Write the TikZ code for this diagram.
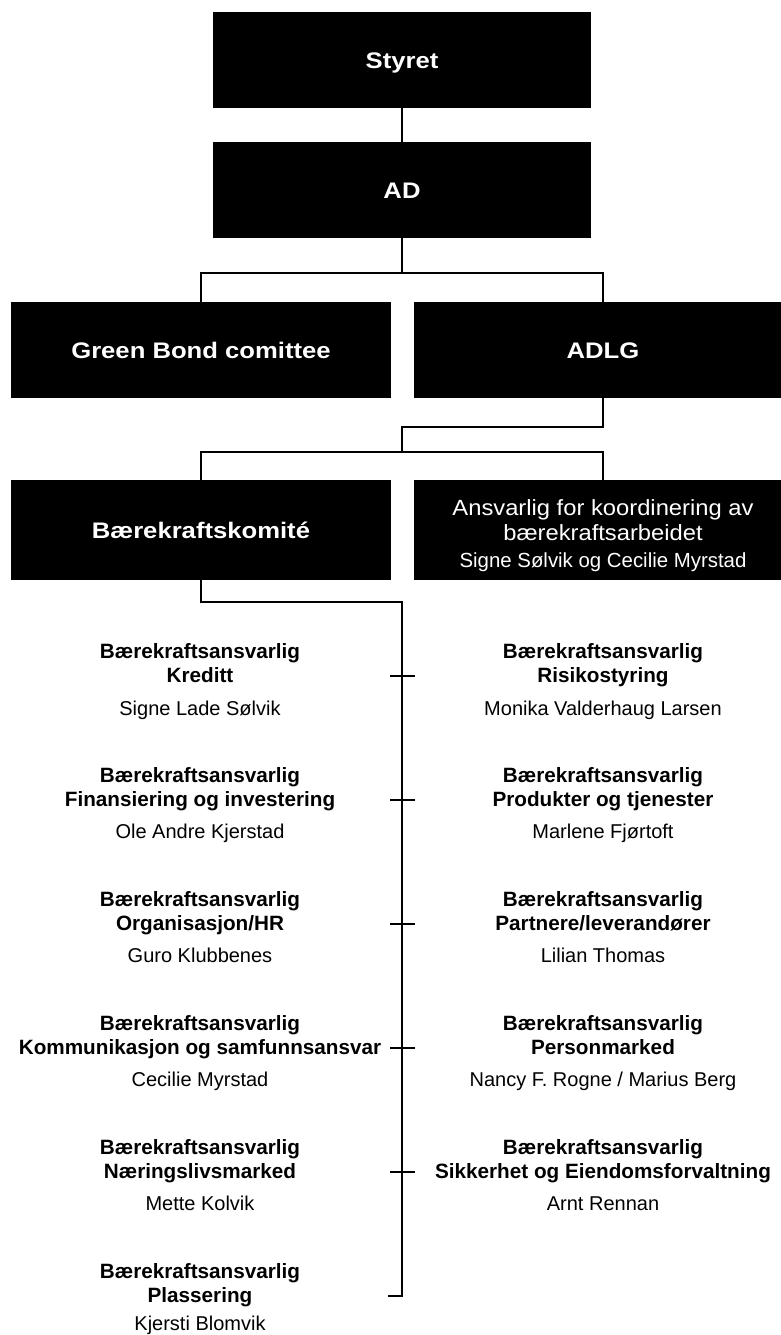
\documentclass[tikz,border=0pt]{standalone}
\usepackage{fontspec}
\setmainfont{Liberation Sans}
\newfontfamily\titlefont[FakeStretch=1.14]{Liberation Sans Bold}
\newfontfamily\subfont[FakeStretch=1.08]{Liberation Sans}
\begin{document}
\begin{tikzpicture}[x=1pt,y=-1pt,
  box/.style={fill=black, text=white, inner sep=0pt, minimum width=378pt, minimum height=96pt,
    text height=16.5pt, text depth=0pt,
    font=\titlefont\fontsize{22.5}{26}\selectfont},
  conn/.style={line width=2.2pt, line join=miter},
  head/.style={anchor=base, inner sep=0pt, font=\bfseries\fontsize{20.7}{24}\selectfont},
  who/.style={anchor=base, inner sep=0pt, font=\fontsize{20}{24}\selectfont},
  boxtxt/.style={anchor=base, inner sep=0pt, text=white, font=\subfont\fontsize{22}{26}\selectfont},
  boxwho/.style={anchor=base, inner sep=0pt, text=white, font=\fontsize{20.4}{24}\selectfont}]
\useasboundingbox[fill=white] (0,0) rectangle (781,1335);

% boxes
\node[box] (sty) at (402,60) {Styret};
\node[box] (ad) at (402,190) {AD};
\node[box, minimum width=380pt] (gb) at (201,350) {Green Bond comittee};
\node[box] (adlg) at (603,350) {ADLG};
\node[box, minimum width=380pt, minimum height=100pt] (bk) at (201,530) {Bærekraftskomité};
\node[box, minimum height=100pt] (ans) at (603,530) {};
\node[boxtxt] (ans1) at (603,515) {Ansvarlig for koordinering av};
\node[boxtxt] (ans2) at (603,540) {bærekraftsarbeidet};
\node[boxwho] (ans3) at (603,567) {Signe Sølvik og Cecilie Myrstad};

% junctions
\coordinate (j1) at (402,273);
\coordinate (j2) at (402,427);
\coordinate (j3) at (402,452);
\coordinate (j4) at (402,602);
\coordinate (vend) at (402,1296);
\coordinate (stub) at (388,1296);

\draw[conn] (sty) -- (ad);
\draw[conn] (ad.south) -- (j1);
\draw[conn] (gb.north) |- (j1) -| (adlg.north);
\draw[conn] (adlg.south) |- (j2) -- (j3);
\draw[conn] (bk.north) |- (j3) -| (ans.north);
\draw[conn] (bk.south) |- (j4) -- (vend) -- (stub);

% ticks
\foreach \i in {0,...,4}{
  \coordinate (tl\i) at (390,676+124*\i);
  \coordinate (tr\i) at (415,676+124*\i);
  \draw[conn] (tl\i) -- (tr\i);
}

% left column
\node[head] (l0a) at (200,658) {Bærekraftsansvarlig};
\node[head] (l0b) at (200,682) {Kreditt};
\node[who]  (l0c) at (200,715) {Signe Lade Sølvik};

\node[head] (l1a) at (200,782) {Bærekraftsansvarlig};
\node[head] (l1b) at (200,806) {Finansiering og investering};
\node[who]  (l1c) at (200,838) {Ole Andre Kjerstad};

\node[head] (l2a) at (200,906) {Bærekraftsansvarlig};
\node[head] (l2b) at (200,930) {Organisasjon/HR};
\node[who]  (l2c) at (200,962) {Guro Klubbenes};

\node[head] (l3a) at (200,1030) {Bærekraftsansvarlig};
\node[head] (l3b) at (200,1054) {Kommunikasjon og samfunnsansvar};
\node[who]  (l3c) at (200,1086) {Cecilie Myrstad};

\node[head] (l4a) at (200,1154) {Bærekraftsansvarlig};
\node[head] (l4b) at (200,1178) {Næringslivsmarked};
\node[who]  (l4c) at (200,1210) {Mette Kolvik};

\node[head] (l5a) at (200,1278) {Bærekraftsansvarlig};
\node[head] (l5b) at (200,1302) {Plassering};
\node[who]  (l5c) at (200,1330) {Kjersti Blomvik};

% right column
\node[head] (r0a) at (603,658) {Bærekraftsansvarlig};
\node[head] (r0b) at (603,682) {Risikostyring};
\node[who]  (r0c) at (603,715) {Monika Valderhaug Larsen};

\node[head] (r1a) at (603,782) {Bærekraftsansvarlig};
\node[head] (r1b) at (603,806) {Produkter og tjenester};
\node[who]  (r1c) at (603,838) {Marlene Fjørtoft};

\node[head] (r2a) at (603,906) {Bærekraftsansvarlig};
\node[head] (r2b) at (603,930) {Partnere/leverandører};
\node[who]  (r2c) at (603,962) {Lilian Thomas};

\node[head] (r3a) at (603,1030) {Bærekraftsansvarlig};
\node[head] (r3b) at (603,1054) {Personmarked};
\node[who]  (r3c) at (603,1086) {Nancy F. Rogne / Marius Berg};

\node[head] (r4a) at (603,1154) {Bærekraftsansvarlig};
\node[head] (r4b) at (603,1178) {Sikkerhet og Eiendomsforvaltning};
\node[who]  (r4c) at (603,1210) {Arnt Rennan};
\end{tikzpicture}
\end{document}
